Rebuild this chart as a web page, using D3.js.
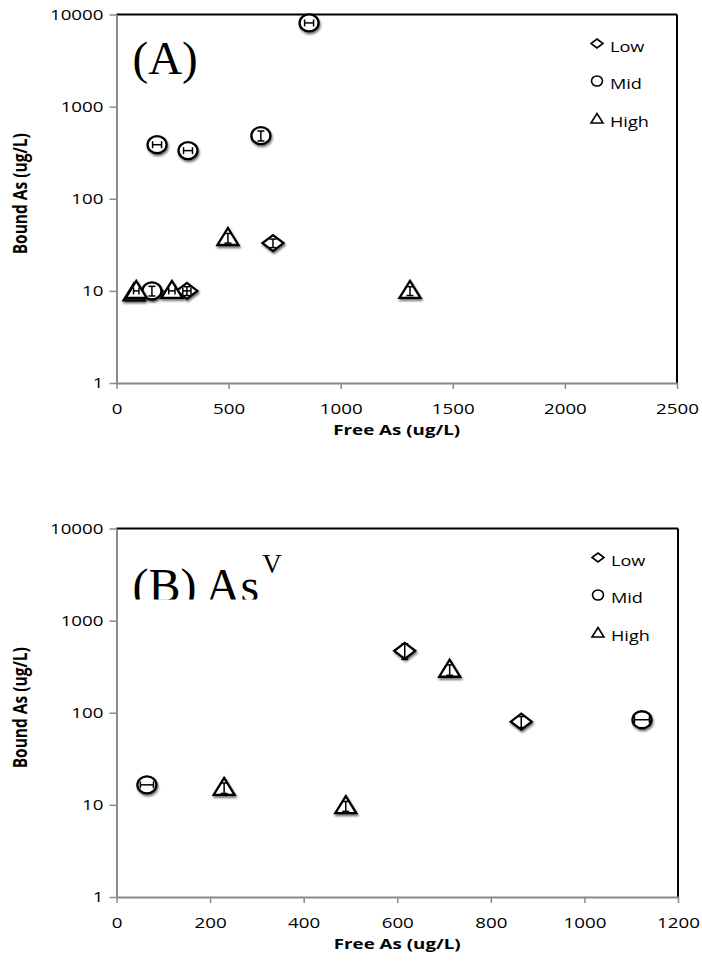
<!DOCTYPE html>
<html>
<head>
<meta charset="utf-8">
<script src="https://cdn.jsdelivr.net/npm/d3@7"></script>
<style>
  body { margin: 0; background: #fff; }
  svg { display: block; }
</style>
</head>
<body>
<svg id="chart" width="702" height="965"></svg>
<script>
// Each point: [free As, bound As, x error, y error] (ug/L)
// Panel A
const aLow  = [[158, 10, 0, 1.1], [314, 10, 18, 1.1], [698, 33, 0, 3.5]];
const aMid  = [[158, 10, 0, 1.2], [181, 386, 20, 0], [319, 333, 20, 0], [644, 484, 0, 60], [859, 8100, 20, 0]];
const aHigh = [[78, 9.4, 0, 0.9], [88, 10, 12, 0], [247, 10, 14, 0], [497, 37.5, 0, 4.5], [1309, 10, 0, 1.1]];
// Panel B (As V)
const bLow  = [[616, 470, 0, 90], [865, 80, 0, 11]];
const bMid  = [[65, 16.5, 14, 0], [1123, 84, 16, 0]];
const bHigh = [[230, 15.3, 0, 2], [490, 9.7, 0, 1.2], [712, 293, 0, 38]];

const seriesNames = ["Low", "Mid", "High"];
const yTicks  = [1, 10, 100, 1000, 10000];
const xTicksA = [0, 500, 1000, 1500, 2000, 2500];
const xTicksB = [0, 200, 400, 600, 800, 1000, 1200];

const svg = d3.select("#chart");
const sansFont = "'Open Sans', 'Liberation Sans', sans-serif";
const serifFont = "'Liberation Serif', 'DejaVu Serif', serif";
const STRETCH = 1.25;   // horizontal widening of the sans-serif labels

// widen a text element horizontally while keeping its anchor point in place
function widen(sel) {
  sel.each(function () {
    const t = d3.select(this);
    const x = +t.attr("x") || 0;
    t.attr("x", x / STRETCH).attr("transform", `scale(${STRETCH},1)`);
  });
}

// soft drop shadow under the markers
const defs = svg.append("defs");
const shadow = defs.append("filter").attr("id", "mshadow")
  .attr("x", "-50%").attr("y", "-50%").attr("width", "200%").attr("height", "200%");
shadow.append("feDropShadow").attr("dx", 1).attr("dy", 2)
  .attr("stdDeviation", 1.3).attr("flood-color", "#000").attr("flood-opacity", 0.55);

// marker outlines, centred on (0,0)
const markerPath = {
  Low:  "M0,-8L10.5,0L0,8L-10.5,0Z",
  Mid:  "M-9.5,0A9.5,8.5 0 1,0 9.5,0A9.5,8.5 0 1,0 -9.5,0Z",
  High: "M0,-10L10.5,7L-10.5,7Z"
};
// small outline glyphs used in the legend
const legendPath = {
  Low:  "M0,-4.5L6,0L0,4.5L-6,0Z",
  Mid:  "M-5.5,0A5.5,5 0 1,0 5.5,0A5.5,5 0 1,0 -5.5,0Z",
  High: "M0,-5L6,4.5L-6,4.5Z"
};

function drawPanel(cfg) {
  const { left, right, top, bottom, xMax, xTicks, series, title } = cfg;
  const x = d3.scaleLinear().domain([0, xMax]).range([left, right]);
  const y = d3.scaleLog().domain([1, 10000]).range([bottom, top]);
  const g = svg.append("g");

  // black frame on top and right
  g.append("line").attr("x1", left).attr("x2", right).attr("y1", top).attr("y2", top)
    .attr("stroke", "#000").attr("stroke-width", 2);
  g.append("line").attr("x1", right).attr("x2", right).attr("y1", top).attr("y2", bottom)
    .attr("stroke", "#000").attr("stroke-width", 2);

  // y axis
  const yAxis = g.append("g").attr("transform", `translate(${left},0)`)
    .call(d3.axisLeft(y).tickValues(yTicks).tickFormat(d3.format("d"))
      .tickSizeInner(7).tickSizeOuter(0).tickPadding(6));
  // x axis
  const xAxis = g.append("g").attr("transform", `translate(0,${bottom})`)
    .call(d3.axisBottom(x).tickValues(xTicks).tickFormat(d3.format("d"))
      .tickSizeInner(6).tickSizeOuter(0).tickPadding(14));
  [yAxis, xAxis].forEach(a => {
    a.select(".domain").attr("stroke", "#8a8a8a").attr("stroke-width", 2);
    a.selectAll(".tick line").attr("stroke", "#8a8a8a").attr("stroke-width", 1.5);
    a.selectAll(".tick text").attr("fill", "#000")
      .style("font-family", sansFont).style("font-size", "15px").call(widen);
  });

  // axis titles
  g.append("text").attr("x", (left + right) / 2).attr("y", bottom + 52)
    .attr("text-anchor", "middle").style("font-family", sansFont)
    .style("font-size", "15px").style("font-weight", "bold").text("Free As (ug/L)")
    .call(widen);
  g.append("text")
    .attr("transform", `translate(27,${(top + bottom) / 2 - 5}) scale(${STRETCH},1) rotate(-90)`)
    .attr("text-anchor", "middle").style("font-family", sansFont)
    .style("font-size", "15.5px").style("font-weight", "bold").text("Bound As (ug/L)");

  // panel title
  title(g, left, top);

  // points with error bars
  seriesNames.forEach((name, si) => {
    const pts = series[si];
    const grp = g.append("g").selectAll("g").data(pts).join("g")
      .attr("transform", d => `translate(${x(d[0])},${y(d[1])})`);
    grp.append("path").attr("d", markerPath[name])
      .attr("fill", "#fff").attr("stroke", "#000").attr("stroke-width", 2.3)
      .attr("filter", "url(#mshadow)");
    // horizontal error bars
    grp.filter(d => d[2] > 0).each(function (d) {
      const s = d3.select(this);
      const x0 = x(d[0] - d[2]) - x(d[0]), x1 = x(d[0] + d[2]) - x(d[0]);
      s.append("line").attr("x1", x0).attr("x2", x1).attr("y1", 0).attr("y2", 0)
        .attr("stroke", "#000").attr("stroke-width", 1.5);
      [x0, x1].forEach(v => s.append("line").attr("x1", v).attr("x2", v)
        .attr("y1", -3.5).attr("y2", 3.5).attr("stroke", "#000").attr("stroke-width", 1.5));
    });
    // vertical error bars
    grp.filter(d => d[3] > 0).each(function (d) {
      const s = d3.select(this);
      const y0 = y(d[1] + d[3]) - y(d[1]), y1 = y(d[1] - d[3]) - y(d[1]);
      s.append("line").attr("x1", 0).attr("x2", 0).attr("y1", y0).attr("y2", y1)
        .attr("stroke", "#000").attr("stroke-width", 1.5);
      [y0, y1].forEach(v => s.append("line").attr("x1", -3.5).attr("x2", 3.5)
        .attr("y1", v).attr("y2", v).attr("stroke", "#000").attr("stroke-width", 1.5));
    });
  });

  // legend
  const leg = g.append("g").selectAll("g").data(seriesNames).join("g")
    .attr("transform", (d, i) => `translate(${right - 80},${top + 29 + i * 37.5})`);
  leg.append("path").attr("d", d => legendPath[d])
    .attr("fill", "none").attr("stroke", "#000").attr("stroke-width", 1.6);
  leg.append("text").attr("x", 13).attr("y", 8)
    .style("font-family", sansFont).style("font-size", "14.5px").text(d => d)
    .call(widen);
}

drawPanel({
  left: 116.5, right: 677, top: 14.5, bottom: 383, xMax: 2500, xTicks: xTicksA,
  series: [aLow, aMid, aHigh],
  title: (g, left, top) => {
    g.append("text").attr("x", left + 16).attr("y", top + 59)
      .style("font-family", serifFont).style("font-size", "47px").text("(A)");
  }
});

drawPanel({
  left: 116.5, right: 678, top: 528.5, bottom: 897, xMax: 1200, xTicks: xTicksB,
  series: [bLow, bMid, bHigh],
  title: (g, left, top) => {
    const clipId = "titleClipB";
    defs.append("clipPath").attr("id", clipId).append("rect")
      .attr("x", left).attr("y", top).attr("width", 300).attr("height", 71);
    const t = g.append("text").attr("x", left + 16).attr("y", top + 73)
      .attr("clip-path", `url(#${clipId})`)
      .style("font-family", serifFont).style("font-size", "48px");
    t.append("tspan").text("(B) As");
    t.append("tspan").attr("dx", 3).attr("dy", -29).style("font-size", "27px").text("V");
  }
});
</script>
</body>
</html>
